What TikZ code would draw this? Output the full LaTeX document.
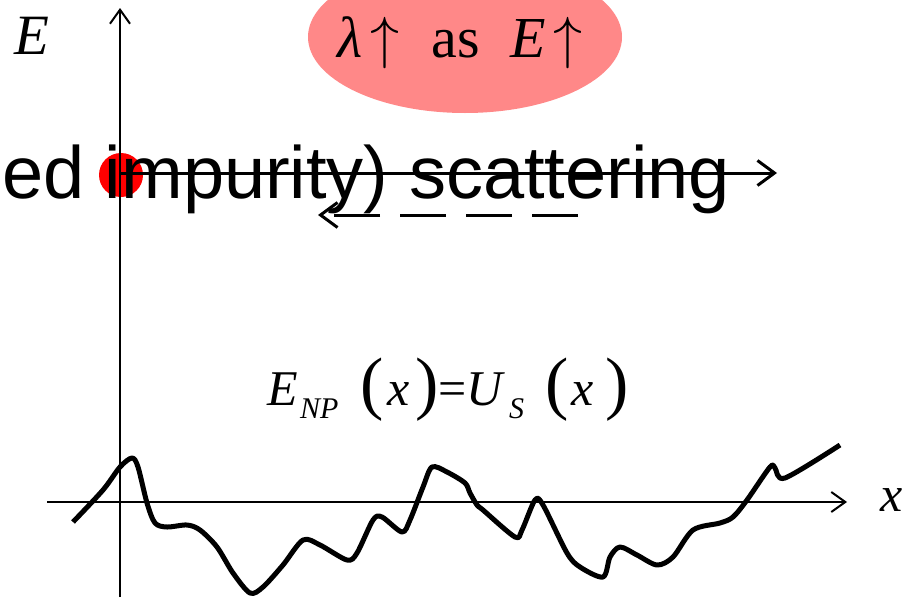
\RequirePackage{fix-cm}
\documentclass[tikz,border=0pt]{standalone}
\usepackage{fontspec}
\setmainfont{Liberation Serif}
\newfontfamily\arialfont{Liberation Sans}
\usetikzlibrary{arrows.meta,shapes.geometric}
\newcommand\setfs[1]{\fontsize{#1}{#1}\selectfont}
\definecolor{ellred}{RGB}{255,136,136}
\begin{document}
\begin{tikzpicture}[x=1pt,y=-1pt,
  axis/.style={line width=2pt,-{Straight Barb[length=14pt,width=20pt,line width=2pt]}},
  scat/.style={line width=3pt,-{Straight Barb[length=17pt,width=25pt,line width=3pt]}},
  txt/.style={inner sep=0pt,anchor=base west},
  mth/.style={txt,font=\setfs{50}\itshape},
  sub/.style={txt,font=\setfs{30}\itshape},
  par/.style={txt,font=\setfs{70}},
  curve/.style={line width=5pt,line join=round}
]
\useasboundingbox (0,0) rectangle (915,597);
% ellipse
\node[ellipse,fill=ellred,minimum width=314pt,minimum height=152pt,inner sep=0pt] (ell) at (465,37) {};
\node[inner sep=0pt,anchor=base] (lam) at (460,57) {\setfs{58}\textit{λ}\hspace{8pt}$\uparrow$\hspace{32pt}as\hspace{30pt}\textit{E}\hspace{8pt}$\uparrow$};
% red dot
\node[circle,fill=red,minimum size=44pt,inner sep=0pt] (dot) at (121,175) {};
% axes
\coordinate (yb) at (120,597);
\coordinate (yt) at (120,8);
\coordinate (xl) at (47,502);
\coordinate (xr) at (847,502);
\draw[axis] (yb) -- (yt);
\draw[axis] (xl) -- (xr);
\node[txt,font=\setfs{57}\itshape] (Elab) at (14,54) {E};
\node[txt,font=\setfs{50}\itshape] (xlab) at (880,511) {x};
% big text
\node[txt,font=\arialfont\setfs{74}] (big) at (2,198) {ed impurity) scattering};
% arrows
\coordinate (arrEnd) at (777,173);
\draw[scat] (dot.center |- arrEnd) -- (arrEnd);
\coordinate (dStart) at (578,215);
\coordinate (dEnd) at (318,215);
\draw[scat,dash pattern=on 46pt off 20pt] (dStart) -- (dEnd);
% formula
\node[mth] (f1) at (267,405) {E};
\node[sub] (f2) at (300,418) {NP};
\node[par] (f3) at (360,406) {(};
\node[mth] (f4) at (387,405) {x};
\node[par] (f5) at (415,406) {)};
\node[txt,font=\setfs{50}] (f6) at (438.5,405) {=};
\node[mth] (f7) at (466,405) {U};
\node[sub] (f8) at (509,418) {S};
\node[par] (f9) at (545,406) {(};
\node[mth] (f10) at (571,405) {x};
\node[par] (f11) at (605,406) {)};
% potential curve
\draw[curve] plot[smooth,tension=0.5] coordinates {
 (73,522) (103,490) (120,467) (132,458) (138,467) (147,503) (155,523) (167,527)
 (187,525) (200,530) (217,547) (233,573) (250,593) (263,587) (283,565) (303,540)
 (320,545) (347,560) (357,553) (373,520) (382,517) (402,532) (410,520) (423,487)
 (432,467) (447,472) (465,483) (470,493) (477,505) (483,510) (515,537) (522,530)
 (535,500) (543,505) (567,553) (580,567) (603,577) (610,557) (620,547) (637,555)
 (657,565) (673,557) (693,530) (720,523) (733,517) (747,500) (770,467) (775,468)
 (785,478) (840,445)};
\end{tikzpicture}
\end{document}
